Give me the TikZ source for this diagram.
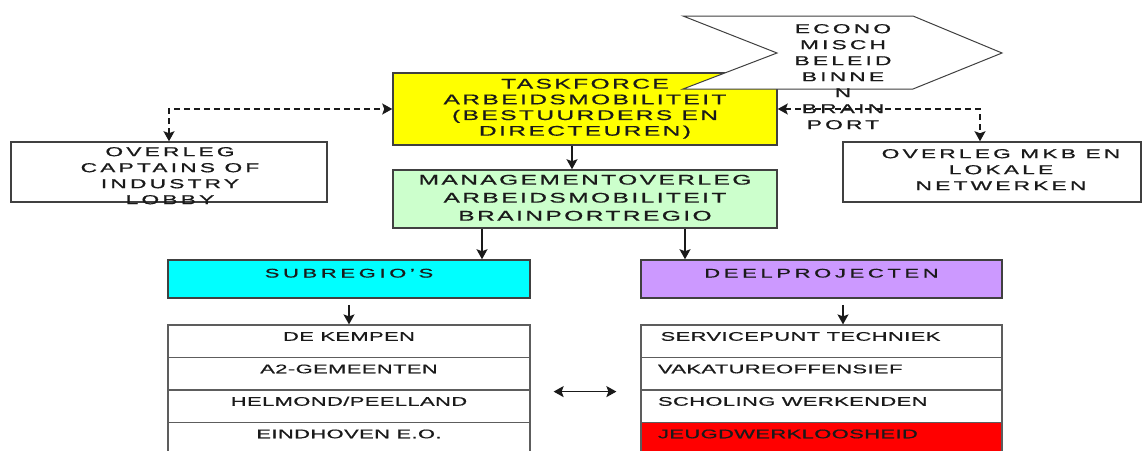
\documentclass[tikz,border=0pt]{standalone}
\usepackage{fontspec}
\usepackage{graphicx}
\usetikzlibrary{arrows.meta}

% Letter-spaced sans faces for the box labels (widened by \wline/\wlines)
\setmainfont{Liberation Sans}
\newfontfamily\bigfont[LetterSpace=10,FakeBold=0.6]{Liberation Sans}
\newfontfamily\midfont[LetterSpace=14,FakeBold=0.6]{Liberation Sans}
\newfontfamily\headfont[LetterSpace=17,FakeBold=0.8]{Liberation Sans}
\newfontfamily\rowfont[LetterSpace=2,FakeBold=0.6]{Liberation Sans}

% horizontally widened single line / stack of centred lines
\newcommand\wline[1]{\scalebox{1.75}[1]{#1}}
\newcommand\wlines[1]{\scalebox{1.75}[1]{\begin{tabular}{@{}c@{}}#1\end{tabular}}}
% left-set label inside a project row
\newcommand\rowleft[1]{\makebox[327pt][l]{\wline{#1}}}

\definecolor{tfyellow}{HTML}{FFFF00}
\definecolor{mgreen}{HTML}{CCFFCC}
\definecolor{subcyan}{HTML}{00FFFF}
\definecolor{deelpurple}{HTML}{CC99FF}
\definecolor{jeugdred}{HTML}{FF0000}
\definecolor{ink}{HTML}{1A1A1A}
\definecolor{edge}{HTML}{404040}

\begin{document}
\begin{tikzpicture}[x=1pt,y=-1pt,
  box/.style={draw=edge, line width=1.5pt, inner sep=0pt, text=ink},
  tip/.tip={Stealth[length=10pt,width=11pt,inset=2pt]},
  conn/.style={draw=ink, line width=1.6pt, -tip},
  dconn/.style={draw=ink, line width=1.6pt, dash pattern=on 6pt off 4pt, tip-tip},
  bigtext/.style={font=\bigfont\fontsize{14}{15.7}\selectfont, text=ink},
  greentext/.style={font=\bigfont\fontsize{14}{18}\selectfont, text=ink},
  midtext/.style={font=\midfont\fontsize{13}{16}\selectfont, text=ink, inner sep=0pt},
  header/.style={box, minimum width=362pt, minimum height=38pt,
    font=\headfont\fontsize{12.5}{15}\selectfont, text height=9pt, text depth=12pt},
  row/.style={draw=edge!85, line width=1.2pt, inner sep=0pt, text=ink,
    minimum height=32.5pt, font=\rowfont\fontsize{12.5}{15}\selectfont,
    text height=9pt, text depth=10pt},
  leftrow/.style={row, minimum width=362pt},
  rightrow/.style={row, minimum width=361pt}
]
\useasboundingbox (0,0) rectangle (1148,450);

% Top level: taskforce
\node[box, fill=tfyellow, minimum width=384pt, minimum height=72pt, bigtext] (tf) at (585,109)
  {\wlines{TASKFORCE\\ARBEIDSMOBILITEIT\\(BESTUURDERS EN\\DIRECTEUREN)}};

% Side consultations
\node[box, fill=white, minimum width=316pt, minimum height=60pt] (cap) at (169,172) {};
\node[midtext] (captext) at (170,177) {\wlines{OVERLEG\\CAPTAINS OF\\INDUSTRY\\LOBBY}};
\node[box, fill=white, minimum width=298pt, minimum height=60pt] (mkb) at (992,172) {};
\node[midtext] (mkbtext) at (1001,171) {\wlines{OVERLEG MKB EN\\LOKALE\\NETWERKEN}};

% Dashed two-way links to the taskforce
\draw[dconn] (cap.north) |- (tf.west);
\draw[dconn] (tf.east) -| ([xshift=-12pt]mkb.north);

% Economic policy banner, lying over the taskforce corner
\draw[draw=edge, line width=1pt, fill=white]
  (683,16) -- (913,16) -- (1002,53) -- (913,89) -- (683,89) -- (777,53) -- cycle;
\node[midtext] (econ) at (843,78) {\wlines{ECONO\\MISCH\\BELEID\\BINNE\\N\\BRAIN\\PORT}};

% Management consultation
\node[box, fill=mgreen, minimum width=384pt, minimum height=58pt, greentext] (grn) at (585,199)
  {\wlines{MANAGEMENTOVERLEG\\ARBEIDSMOBILITEIT\\BRAINPORTREGIO}};
\draw[conn] ([xshift=-13pt]tf.south) -- ([xshift=-13pt]grn.north);

% Two branches
\node[header, fill=subcyan] (sub) at (349,279) {\wline{SUBREGIO’S}};
\node[header, fill=deelpurple, minimum width=361pt] (deel) at (821.5,279) {\wline{DEELPROJECTEN}};
\draw[conn] (grn.south) ++(-103,0) coordinate (gsub) -- (gsub |- sub.north);
\draw[conn] (grn.south) ++(100,0) coordinate (gdeel) -- (gdeel |- deel.north);

% Sub-regions
\node[leftrow] (l1) at (349,341.25) {\wline{DE KEMPEN}};
\node[leftrow] (l2) at (349,373.75) {\wline{A2-GEMEENTEN}};
\node[leftrow] (l3) at (349,406.25) {\wline{HELMOND/PEELLAND}};
\node[leftrow] (l4) at (349,438.75) {\wline{EINDHOVEN E.O.}};

% Sub-projects
\node[rightrow] (r1) at (821.5,341.25) {\rowleft{\hspace{1.5pt}SERVICEPUNT TECHNIEK}};
\node[rightrow] (r2) at (821.5,373.75) {\rowleft{VAKATUREOFFENSIEF}};
\node[rightrow] (r3) at (821.5,406.25) {\rowleft{SCHOLING WERKENDEN}};
\node[rightrow, fill=jeugdred] (r4) at (821.5,438.75) {\rowleft{JEUGDWERKLOOSHEID}};

\draw[conn] ([yshift=-6pt]sub.south) -- (l1.north);
\draw[conn] ([xshift=21.5pt,yshift=-6pt]deel.south) -- ([xshift=21.5pt]r1.north);

% Exchange between regions and projects
\draw[conn, tip-tip] ([xshift=23pt,yshift=-1pt]l2.south east) -- ([xshift=-24pt,yshift=-1pt]r2.south west);
\end{tikzpicture}
\end{document}
